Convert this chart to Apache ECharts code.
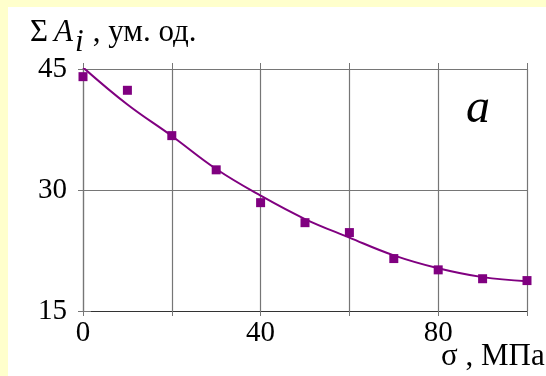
<!DOCTYPE html>
<html>
<head>
<meta charset="utf-8">
<script src="https://cdn.jsdelivr.net/npm/echarts@6/dist/echarts.min.js"></script>
<style>
html,body{margin:0;padding:0;background:#FFFFCC;}
#c{width:546px;height:376px;}
</style>
</head>
<body>
<div id="c"></div>
<script>
// Data
var sigma = [0, 10, 20, 30, 40, 50, 60, 70, 80, 90, 100];
var measured = [44.05, 42.36, 36.74, 32.5, 28.43, 25.95, 24.72, 21.5, 20.1, 19.0, 18.77];
var fitted = [45.2, 40.6, 36.7, 32.6, 29.3, 26.4, 24.1, 21.9, 20.3, 19.2, 18.7];
var xLabeled = [0, 40, 80];
var yTicks = [15, 30, 45];

var FONT = '"Liberation Serif", "Times New Roman", serif';
var GRID = '#767676';

var chart = echarts.init(document.getElementById('c'), null, {renderer: 'canvas'});
var xBase = {
  type: 'value', min: 0, max: 100, interval: 20
};
var yBase = {
  type: 'value', min: yTicks[0], max: yTicks[yTicks.length - 1], interval: 15
};
chart.setOption({
  backgroundColor: '#FFFFCC',
  animation: false,
  grid: {left: 83, right: 19, top: 69, bottom: 65},
  graphic: [
    {type: 'rect', left: 8, top: 7, z: -10, shape: {width: 538, height: 369}, style: {fill: '#ffffff'}},
    {type: 'text', x: 30, y: 32.5, style: {text: 'Σ', font: '31px ' + FONT, fill: '#000', verticalAlign: 'middle'}},
    {type: 'text', x: 54, y: 32.5, style: {text: 'A', font: 'italic 31px ' + FONT, fill: '#000', verticalAlign: 'middle'}},
    {type: 'text', x: 75, y: 42.5, style: {text: 'i', font: 'italic 31px ' + FONT, fill: '#000', verticalAlign: 'middle'}},
    {type: 'text', x: 85, y: 32.5, style: {text: ' , ум. од.', font: '31px ' + FONT, fill: '#000', verticalAlign: 'middle'}},
    {type: 'text', x: 466, y: 109, style: {text: 'a', font: 'italic 48px ' + FONT, fill: '#000', verticalAlign: 'middle'}},
    {type: 'text', x: 441, y: 357, style: {text: 'σ , МПа', font: '31px ' + FONT, fill: '#000', verticalAlign: 'middle'}}
  ],
  xAxis: [
    Object.assign({}, xBase, {
      position: 'bottom',
      axisLine: {show: true, lineStyle: {color: '#333', width: 1}},
      axisTick: {show: true, length: 5, lineStyle: {color: GRID}},
      splitLine: {show: true, lineStyle: {color: GRID, width: 1.2}},
      axisLabel: {
        show: true, margin: 8, color: '#000', fontFamily: FONT, fontSize: 29,
        formatter: function (v) { return xLabeled.indexOf(v) >= 0 ? String(v) : ''; }
      }
    }),
    Object.assign({}, xBase, {
      position: 'top',
      axisLine: {show: false},
      axisTick: {show: true, length: 6, lineStyle: {color: GRID}},
      splitLine: {show: false},
      axisLabel: {show: false}
    })
  ],
  yAxis: [
    Object.assign({}, yBase, {
      position: 'left',
      axisLine: {show: true, lineStyle: {color: GRID, width: 1.2}},
      axisTick: {show: true, length: 5, lineStyle: {color: GRID}},
      splitLine: {show: true, lineStyle: {color: GRID, width: 1.2}},
      axisLabel: {show: true, margin: 16, color: '#000', fontFamily: FONT, fontSize: 29}
    }),
    Object.assign({}, yBase, {
      position: 'right',
      axisLine: {show: false},
      axisTick: {show: true, length: 8, lineStyle: {color: GRID}},
      splitLine: {show: false},
      axisLabel: {show: false}
    })
  ],
  series: [
    {
      type: 'line', name: 'fit', xAxisIndex: 0, yAxisIndex: 0,
      data: sigma.map(function (s, i) { return [s, fitted[i]]; }),
      smooth: 0.4, showSymbol: false, symbol: 'none',
      lineStyle: {color: '#800080', width: 2}, z: 3
    },
    {
      type: 'scatter', name: 'measured', xAxisIndex: 0, yAxisIndex: 0,
      data: sigma.map(function (s, i) { return [s, measured[i]]; }),
      symbol: 'rect', symbolSize: 9,
      itemStyle: {color: '#800080', opacity: 1}, z: 4
    }
  ]
});
</script>
</body>
</html>
